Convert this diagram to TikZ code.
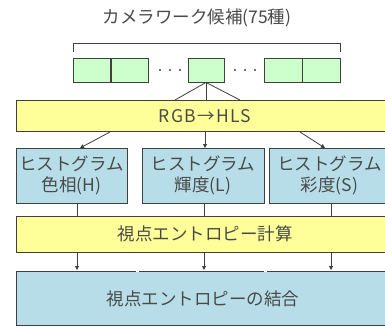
\documentclass[tikz,border=0pt]{standalone}
\usepackage{fontspec}
\setmainfont{Noto Sans CJK JP}
\usetikzlibrary{arrows.meta}
\definecolor{yel}{HTML}{FFFF99}
\definecolor{grn}{HTML}{CCFFCC}
\definecolor{blu}{HTML}{B7DEE8}
\definecolor{txt}{HTML}{4A4A4A}
\definecolor{edge}{HTML}{404040}
\tikzset{
  yelbox/.style={draw=edge, line width=0.9pt, fill=yel},
  grnbox/.style={draw=edge, line width=0.9pt, fill=grn},
  blubox/.style={draw=edge, line width=0.9pt, fill=blu},
  lbl/.style={text=txt, font=\fontsize{17.5}{21}\selectfont, align=center, inner sep=0pt},
  conn/.style={draw=edge, line width=0.8pt},
  arr/.style={conn, -{Triangle[length=4pt,width=4pt]}},
  dot/.style={circle, fill=edge, inner sep=0pt, minimum size=2.4pt}
}
\begin{document}
\begin{tikzpicture}[x=1pt,y=-1pt]
\useasboundingbox (0,0) rectangle (385,327);
\clip (0,0) rectangle (385,327);
\fill[white] (0,0) rectangle (385,327);
% title
\node[lbl] (title) at (197,18) {カメラワーク候補(75種)};
% bracket
\coordinate (bl) at (73,52);
\coordinate (br) at (340,52);
\draw[conn] (bl) -- (73,43) -- (340,43) -- (br);
% green boxes
\node[grnbox, minimum width=37pt, minimum height=24pt, inner sep=0pt] (g1) at (92,70) {};
\node[grnbox, minimum width=37pt, minimum height=24pt, inner sep=0pt] (g2) at (129.5,70) {};
\node[grnbox, minimum width=36pt, minimum height=24pt, inner sep=0pt] (g3) at (206,70) {};
\node[grnbox, minimum width=38pt, minimum height=24pt, inner sep=0pt] (g4) at (283,70) {};
\node[grnbox, minimum width=38pt, minimum height=24pt, inner sep=0pt] (g5) at (321,70) {};
\foreach \x [count=\i] in {160,170,180,235,245,255} \node[dot] (d\i) at (\x,70) {};
% RGB box
\node[yelbox, minimum width=378pt, minimum height=31pt, inner sep=0pt] (rgb) at (205,116) {};
\node[lbl, font=\fontsize{17.5}{21}\selectfont\addfontfeature{LetterSpace=8}] (rgbt) at (205,116) {RGB→HLS};
\coordinate (r1) at (175,100);
\coordinate (r2) at (206,100);
\coordinate (r3) at (240,100);
\draw[conn] (g3.south) -- (r1);
\draw[conn] (g3.south) -- (r2);
\draw[conn] (g3.south) -- (r3);
% histogram boxes
\node[blubox, minimum width=111pt, minimum height=55pt, inner sep=0pt] (h1) at (71.5,175.5) {};
\node[blubox, minimum width=122pt, minimum height=55pt, inner sep=0pt] (h2) at (203,175.5) {};
\node[blubox, minimum width=121pt, minimum height=55pt, inner sep=0pt] (h3) at (329.5,175.5) {};
\node[lbl] (h1t) at (h1) {ヒストグラム\\色相(H)};
\node[lbl] (h2t) at (h2) {ヒストグラム\\輝度(L)};
\node[lbl] (h3t) at (h3) {ヒストグラム\\彩度(S)};
\coordinate (a1s) at (110,132);
\coordinate (a3s) at (300,132);
\draw[arr] (a1s) -- (80,148);
\draw[arr] (205,132) -- (205,148);
\draw[arr] (a3s) -- (325,148);
% entropy calc
\node[yelbox, minimum width=378pt, minimum height=36pt, inner sep=0pt] (ent) at (205,234) {};
\node[lbl] (entt) at (205,234) {視点エントロピー計算};
\draw[conn] (77,203) -- (77,216);
\draw[conn] (204,203) -- (204,216);
\draw[conn] (331,203) -- (331,216);
% combine
\node[blubox, minimum width=378pt, minimum height=54pt, inner sep=0pt] (comb) at (205,298) {};
\draw[white, line width=1pt] (136,271) -- (139,271);
\draw[white, line width=1pt] (264,271) -- (267,271);
\node[lbl] (combt) at (203,299) {視点エントロピーの結合};
\draw[arr] (77,252) -- (77,270);
\draw[arr] (204,252) -- (204,270);
\draw[arr] (331,252) -- (331,270);
\end{tikzpicture}
\end{document}
